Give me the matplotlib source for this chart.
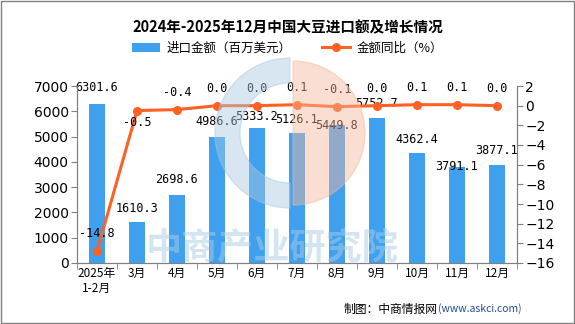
import numpy as np
import matplotlib.pyplot as plt
from matplotlib.patches import Wedge, Rectangle

plt.rcParams['font.family'] = ['Noto Sans CJK SC', 'DejaVu Sans']

# data
months = ['2025年\n1-2月', '3月', '4月', '5月', '6月', '7月', '8月', '9月', '10月', '11月', '12月']
amount = [6301.6, 1610.3, 2698.6, 4986.6, 5333.2, 5126.1, 5449.8, 5752.7, 4362.4, 3791.1, 3877.1]
yoy = [-14.8, -0.5, -0.4, 0.0, 0.0, 0.1, -0.1, 0.0, 0.1, 0.1, 0.0]

bar_c = '#3FA0F0'
line_c = '#FF6124'
grey = '#808080'

fig = plt.figure(figsize=(5.75, 3.24), dpi=100)
ax = fig.add_axes([77/575, 1 - 263/324, 440/575, 177/324])
ax2 = ax.twinx()

# watermark logo (inch coords so the circle stays round)
cx, cy = 2.90, (324 - 133) / 100
fig.patches.append(Wedge((cx, cy), 0.75, 90, 270, width=0.25, transform=fig.dpi_scale_trans,
                         color='#A8C9DE', alpha=0.45, zorder=0))
fig.patches.append(Wedge((cx + 0.03, cy), 0.72, -90, 90, transform=fig.dpi_scale_trans,
                         color='#F6B79A', alpha=0.45, zorder=0))
fig.text(272/575, 1 - 249/324, '中商产业研究院', fontsize=26, fontweight='bold', color='#A9CDE4',
         alpha=0.5, ha='center', va='center', zorder=0)

x = np.arange(len(months))
ax.bar(x, amount, width=0.4, color=bar_c, zorder=2, label='进口金额（百万美元）')
ax.set_xlim(-0.5, len(months) - 0.5)
ax.set_ylim(0, 7000)
ax.set_yticks(range(0, 7001, 1000))
ax2.plot(x, yoy, color=line_c, lw=2.2, marker='o', ms=5.5, zorder=3, label='金额同比（%）')
ax2.set_ylim(-16, 2)
ax2.set_yticks(range(-16, 3, 2))
ax.set_zorder(ax2.get_zorder() - 1)
ax.patch.set_visible(False)

ax.set_xticks(x)
ax.set_xticklabels(months, fontsize=8.5)
ax.set_xticks(np.arange(-0.5, len(months)), minor=True)
ax.tick_params(axis='x', which='major', length=0, pad=3)
ax.tick_params(axis='x', which='minor', length=4, color=grey)
ax.tick_params(axis='y', labelsize=10, length=4, color=grey, pad=2)
ax2.tick_params(axis='y', labelsize=10, length=4, color=grey, pad=2)
for a in (ax, ax2):
    a.spines['top'].set_visible(False)
    for s in ('left', 'right', 'bottom'):
        a.spines[s].set_color(grey)
for lab in ax.get_yticklabels() + ax2.get_yticklabels():
    lab.set_fontfamily('DejaVu Sans')

# labels (offsets in pixels, as placed in the reference)
bar_off = [16, 14, 15, 15, 12, 14, 0, 14, 13, 1, 14]
for i, v in enumerate(amount):
    ax.annotate(f'{v:.1f}', (x[i], v), xytext=(0, bar_off[i]), textcoords='offset pixels',
                ha='center', va='center', fontsize=8.5, family='DejaVu Sans Mono')
line_off = [18, -12, 17, 17, 17, 17, 17, 17, 17, 17, 17]
for i, v in enumerate(yoy):
    ax2.annotate(f'{v:.1f}', (x[i], v), xytext=(0, line_off[i]), textcoords='offset pixels',
                 ha='center', va='center', fontsize=8.5, family='DejaVu Sans Mono')

fig.text(0.5, 1 - 27/324, '2024年-2025年12月中国大豆进口额及增长情况', ha='center', va='center',
         fontsize=10.5, fontweight='bold')
h1, l1 = ax.get_legend_handles_labels()
h2, l2 = ax2.get_legend_handles_labels()
fig.legend(h1 + h2, l1 + l2, loc='center', bbox_to_anchor=(0.5, 1 - 48/324), ncol=2,
           frameon=False, fontsize=9, handlelength=2.2, columnspacing=2.5, handletextpad=0.5)
fig.text(438/575, 1 - 309/324, '制图：中商情报网', ha='right', va='center', fontsize=8.5)
fig.text(438/575, 1 - 309/324, '(www.askci.com)', ha='left', va='center', fontsize=7.5,
         color='#1F4E9A')
fig.patches.append(Rectangle((0.002, 0.003), 0.996, 0.994, transform=fig.transFigure,
                             fill=False, edgecolor=grey, lw=1))

plt.savefig('out.png', dpi=100)
